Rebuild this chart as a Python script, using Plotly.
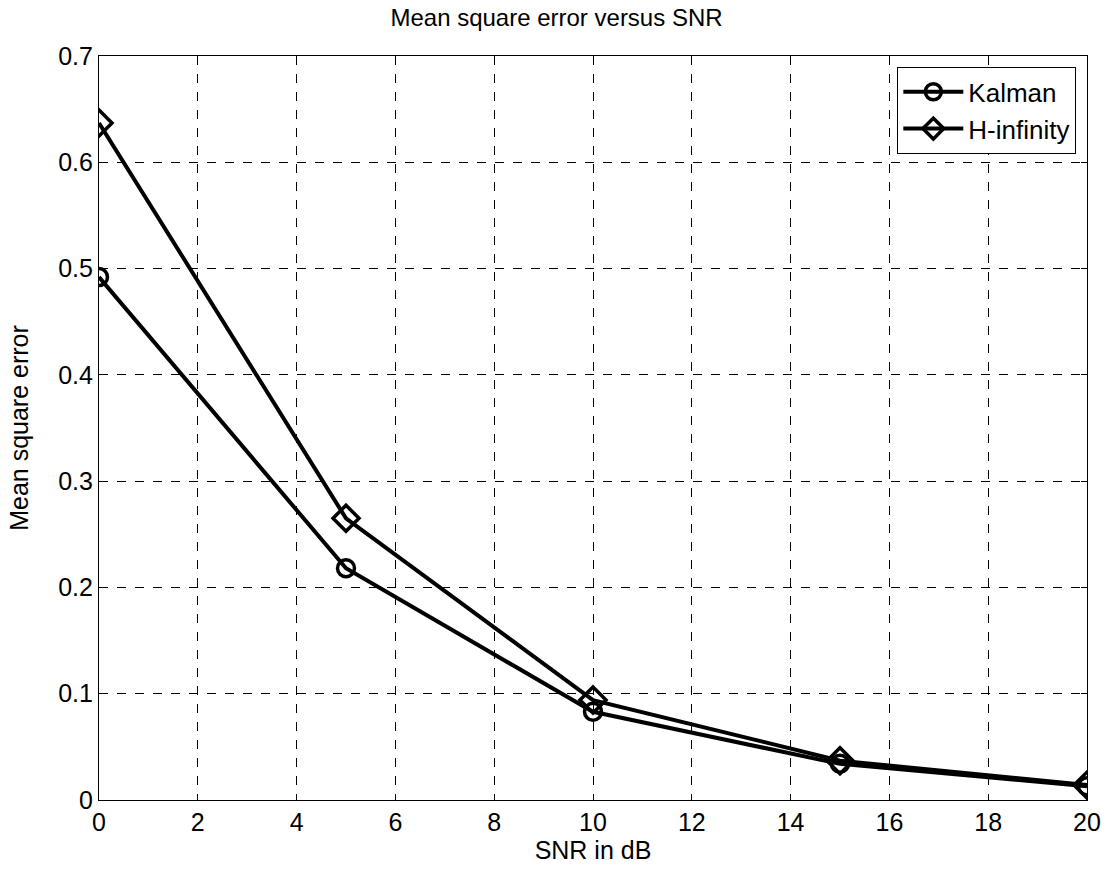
import plotly.graph_objects as go

snr = [0, 5, 10, 15, 20]
kalman = [0.492, 0.218, 0.083, 0.034, 0.013]
hinf = [0.637, 0.265, 0.094, 0.037, 0.014]
x_ticks = [0, 2, 4, 6, 8, 10, 12, 14, 16, 18, 20]
y_ticks = [0, 0.1, 0.2, 0.3, 0.4, 0.5, 0.6, 0.7]
y_labels = ["0", "0.1", "0.2", "0.3", "0.4", "0.5", "0.6", "0.7"]

FONT = "Liberation Sans, Arial"

fig = go.Figure()
fig.add_trace(go.Scatter(
    x=snr, y=kalman, name="Kalman", mode="lines+markers",
    line=dict(color="black", width=4),
    marker=dict(symbol="circle-open", size=17, color="black", line=dict(width=3.5, color="black")),
))
fig.add_trace(go.Scatter(
    x=snr, y=hinf, name="H-infinity", mode="lines+markers",
    line=dict(color="black", width=4),
    marker=dict(symbol="diamond-open", size=20, color="black", line=dict(width=3.5, color="black")),
))

axis_common = dict(
    showline=True, linecolor="black", linewidth=1.2, mirror="allticks",
    ticks="inside", ticklen=6, tickcolor="black",
    showgrid=True, gridcolor="black", gridwidth=1, griddash="dash",
    zeroline=False,
    tickfont=dict(family=FONT, size=25, color="black"),
)

fig.update_layout(
    width=1113, height=872,
    paper_bgcolor="white", plot_bgcolor="white",
    margin=dict(l=99, r=23, t=56, b=71),
    title=dict(text="Mean square error versus SNR", x=0.5, xanchor="center",
               y=1 - 18 / 872, yanchor="middle",
               font=dict(family=FONT, size=24, color="black")),
    xaxis=dict(range=[0, 20], tickvals=x_ticks,
               title=dict(text="SNR in dB", standoff=6,
                          font=dict(family=FONT, size=25, color="black")),
               **axis_common),
    yaxis=dict(range=[0, 0.7], tickvals=y_ticks, ticktext=y_labels,
               title=dict(text="Mean square error", standoff=22,
                          font=dict(family=FONT, size=25, color="black")),
               **axis_common),
    legend=dict(x=0.989, y=0.985, xanchor="right", yanchor="top",
                bgcolor="white", bordercolor="black", borderwidth=1.2,
                font=dict(family=FONT, size=26, color="black"),
                itemwidth=60, tracegroupgap=4),
    showlegend=True,
)

fig.write_html("out.html")
